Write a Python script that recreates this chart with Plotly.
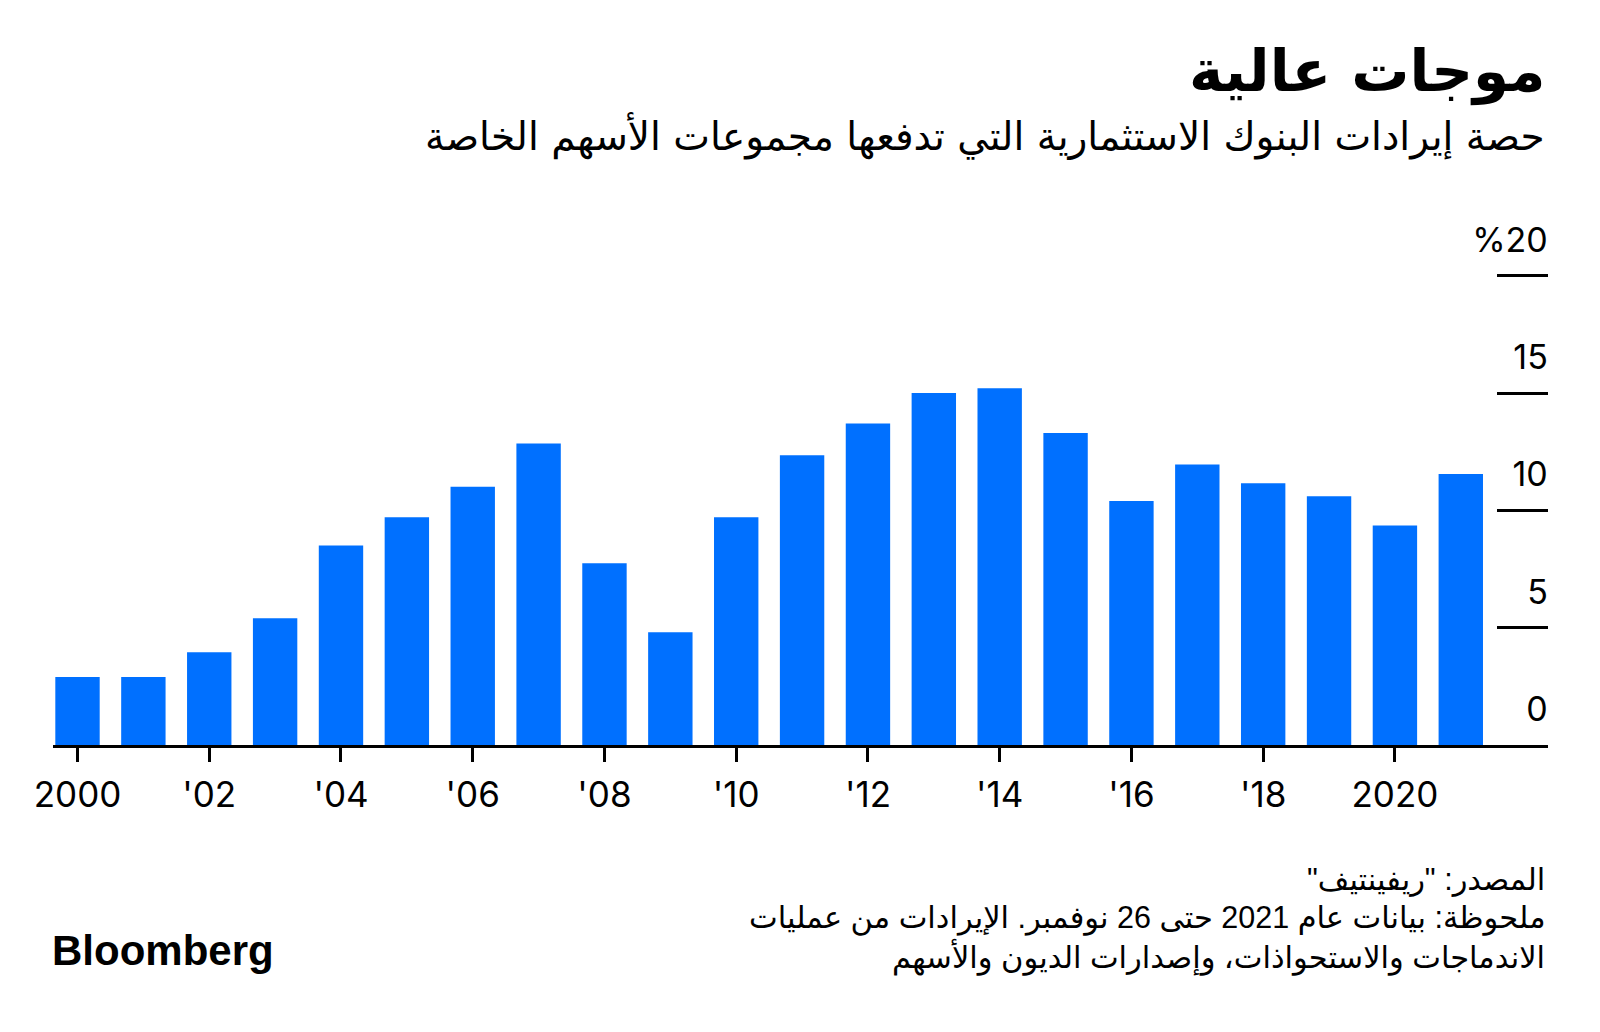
import plotly.graph_objects as go

# ── data ──────────────────────────────────────────────────────────────
years = list(range(2000, 2022))
share = [2.9, 2.9, 3.95, 5.4, 8.5, 9.7, 11.0, 12.85, 7.75, 4.8, 9.7, 12.35,
         13.7, 15.0, 15.2, 13.3, 10.4, 11.95, 11.15, 10.6, 9.35, 11.55]

x_tickvals = list(range(2000, 2021, 2))
x_ticktext = ["2000", "'02", "'04", "'06", "'08", "'10", "'12", "'14", "'16", "'18", "2020"]
y_tickvals = [0, 5, 10, 15, 20]
y_ticktext = ["0", "5", "10", "15", "%20"]

title = "موجات عالية"
subtitle = "حصة إيرادات البنوك الاستثمارية التي تدفعها مجموعات الأسهم الخاصة"
source = 'المصدر: "ريفينتيف"\u200f'
note_lines = [
    "ملحوظة: بيانات عام 2021 حتى 26 نوفمبر. الإيرادات من عمليات",
    "الاندماجات والاستحواذات، وإصدارات الديون والأسهم",
]

BLUE = "#0070FF"
ARABIC = "DejaVu Sans"
LATIN = "Inter, Liberation Sans, Arial, sans-serif"

# ── layout helpers ────────────────────────────────────────────────────
# page body has an 8px margin, so figure coords = page coords - 8
OFF = 8
W, H = 1600, 1032
Y_MAX = 22.5                      # headroom so the "%20" label stays inside
BASE = 745.5                      # page y of the zero line
ML = 52.7 - OFF
MR = W - (1547.7 - OFF)
MB = H - (BASE - OFF)
MT = (BASE - OFF) - 23.47 * Y_MAX
PW, PH = W - ML - MR, H - MT - MB

def px(xp, yp):
    """page pixel -> paper coordinates"""
    return (xp - OFF - ML) / PW, (H - MB - (yp - OFF)) / PH

fig = go.Figure()
fig.add_trace(go.Bar(x=years, y=share, marker=dict(color=BLUE, line_width=0),
                     hovertemplate="%{x}: %{y:.1f}%<extra></extra>"))

annos = []
tx, ty = px(1547, 72)
annos.append(dict(x=tx, y=ty, text=f"<b>{title}</b>", xanchor="right", yanchor="middle",
                  font=dict(family=ARABIC, size=58, color="black")))
tx, ty = px(1547, 136)
annos.append(dict(x=tx, y=ty, text=subtitle, xanchor="right", yanchor="middle",
                  font=dict(family=ARABIC, size=39, color="black")))
for i, line in enumerate([source] + note_lines):
    tx, ty = px(1547, 880 + 39 * i)
    annos.append(dict(x=tx, y=ty, text=line, xanchor="right", yanchor="middle",
                      font=dict(family="Liberation Sans, " + ARABIC, size=30.5, color="black")))
tx, ty = px(50, 951)
annos.append(dict(x=tx, y=ty, text="<b>Bloomberg</b>", xanchor="left", yanchor="middle",
                  font=dict(family="Liberation Sans, Arial", size=42, color="black")))
for a in annos:
    a.update(xref="paper", yref="paper", showarrow=False)

fig.update_layout(
    width=W, height=H,
    margin=dict(l=ML, r=MR, t=MT, b=MB, autoexpand=False),
    paper_bgcolor="white", plot_bgcolor="white",
    showlegend=False,
    bargap=0.326,
    annotations=annos,
    xaxis=dict(
        range=[1999.628, 2022.324], automargin=False,
        tickvals=x_tickvals, ticktext=x_ticktext,
        ticks="outside", ticklen=14, tickwidth=2.5, tickcolor="black",
        showline=True, linecolor="black", linewidth=2.5,
        showgrid=False, zeroline=False,
        tickfont=dict(family=LATIN, size=35, color="black"),
        ticklabelstandoff=3,
    ),
    yaxis=dict(
        range=[0, Y_MAX], side="right", automargin=False,
        tickvals=y_tickvals, ticktext=y_ticktext,
        ticks="inside", ticklen=51, tickwidth=2.5, tickcolor="black",
        ticklabelposition="inside", ticklabelshift=-36, ticklabelstandoff=-47,
        showline=False, showgrid=False, zeroline=False,
        tickfont=dict(family=LATIN, size=34, color="black"),
    ),
)

fig.write_html("out.html")
